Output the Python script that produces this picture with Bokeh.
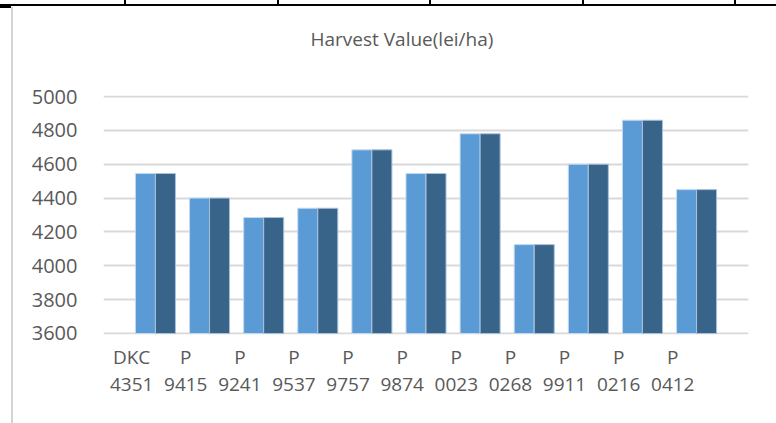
from bokeh.plotting import figure
from bokeh.models import Range1d, FixedTicker, Title
from bokeh.embed import file_html
from bokeh.resources import INLINE
import numpy as np

# ---- data ----
hybrid_prefix = ["DKC", "P", "P", "P", "P", "P", "P", "P", "P", "P", "P"]
hybrid_code = ["4351", "9415", "9241", "9537", "9757", "9874", "0023", "0268", "9911", "0216", "0412"]
value_series_1 = [4545, 4400, 4285, 4340, 4685, 4545, 4780, 4125, 4600, 4860, 4450]
value_series_2 = [4545, 4400, 4285, 4340, 4685, 4545, 4780, 4125, 4600, 4860, 4450]
y_ticks = [3600, 3800, 4000, 4200, 4400, 4600, 4800, 5000]
title_text = "Harvest Value(lei/ha)"

# ---- styling ----
FONT = "Open Sans"
TEXT = "#595959"
LIGHT = "#5B9BD5"
DARK = "#38648A"
GRID = "#D9D9D9"
LABEL_SHIFT = 0.44   # the bars sit to the right of their labels in the source
BAR_W = 0.37
W, H = 776, 423

n = len(hybrid_code)
idx = np.arange(n)
y_min, y_max = y_ticks[0], y_ticks[-1]

p = figure(width=W, height=H, output_backend="svg", toolbar_location=None,
           x_range=Range1d(-0.52, 11.40), y_range=Range1d(y_min - 6, y_max + 6),
           min_border_left=103, min_border_right=28, min_border_top=95, min_border_bottom=89,
           border_fill_color=None, background_fill_color="white", outline_line_color=None)

p.vbar(x=idx + LABEL_SHIFT - BAR_W / 2, top=value_series_1, bottom=y_min, width=BAR_W,
       fill_color=LIGHT, line_color="#C5D9F0", line_width=1)
p.vbar(x=idx + LABEL_SHIFT + BAR_W / 2, top=value_series_2, bottom=y_min, width=BAR_W,
       fill_color=DARK, line_color="#A9C1DB", line_width=1)

# axes
p.xaxis.ticker = FixedTicker(ticks=list(idx))
p.xaxis.major_label_overrides = {int(i): f"{a}\n{b}" for i, a, b in zip(idx, hybrid_prefix, hybrid_code)}
p.yaxis.ticker = FixedTicker(ticks=y_ticks)
for ax in (p.xaxis, p.yaxis):
    ax.axis_line_color = None
    ax.major_tick_line_color = None
    ax.minor_tick_line_color = None
    ax.major_label_text_font = FONT
    ax.major_label_text_color = TEXT
p.xaxis.major_label_text_font_size = "19px"
p.xaxis.major_label_text_line_height = 1.05
p.xaxis.major_label_standoff = 3
p.yaxis.major_label_text_font_size = "20px"
p.yaxis.major_label_standoff = 20

p.xgrid.grid_line_color = None
p.ygrid.ticker = FixedTicker(ticks=y_ticks)
p.ygrid.grid_line_color = GRID
p.ygrid.grid_line_width = 2

# a thin spacer next to the frame, then the real title further up
p.add_layout(Title(text=" ", text_font_size="1px", standoff=15), "above")
p.add_layout(Title(text=title_text, align="left", offset=207, vertical_align="top",
                   standoff=48, text_font=FONT, text_font_size="19px",
                   text_font_style="normal", text_color=TEXT), "above")

# page decorations of the source document (table border and chart frame)
grads = []
sizes = []
poss = []
def seg(x, y, w, h, c):
    grads.append(f"linear-gradient({c},{c})")
    sizes.append(f"{w} {h}")
    poss.append(f"{x} {y}")
seg("0px", "4px", "100%", "2px", "#000")
seg("0px", "5px", "11px", "3px", "#000")
for tx in (124, 277, 429, 582, 734):
    seg(f"{tx}px", "0px", "2px", "5px", "#000")
seg("11px", "7px", "2px", "100%", "#D4D4D4")
p.styles = {
    "background-image": ", ".join(grads),
    "background-size": ", ".join(sizes),
    "background-position": ", ".join(poss),
    "background-repeat": "no-repeat",
}

open("out.html", "w").write(file_html(p, INLINE))
